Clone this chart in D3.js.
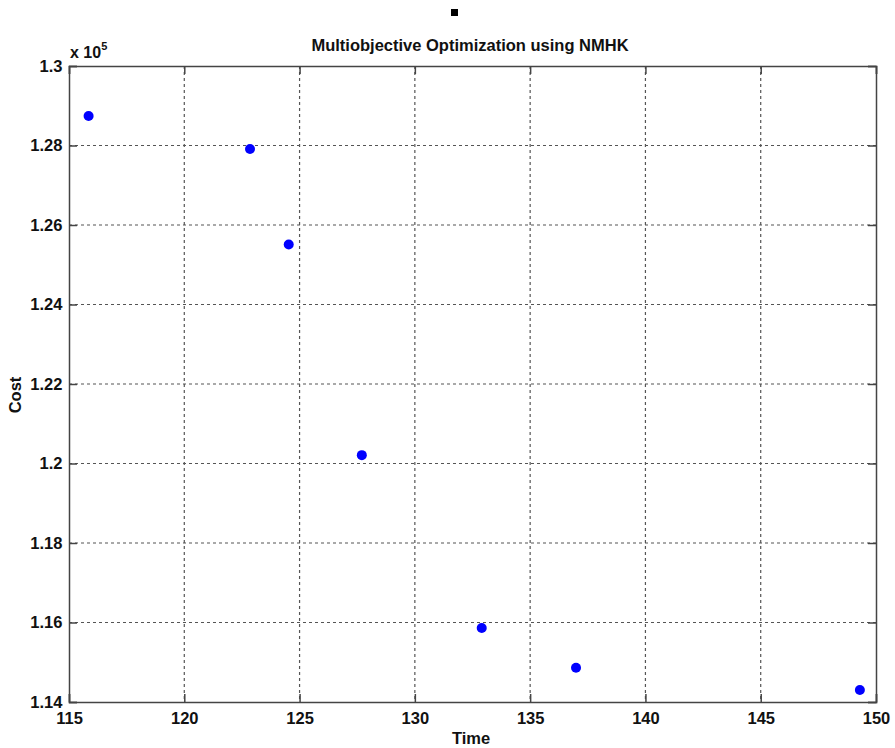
<!DOCTYPE html>
<html>
<head>
    <meta charset="utf-8">
    <style>
        body { margin: 0; background: #fff; }
        text { font-family: "Liberation Sans", Arial, sans-serif; font-weight: bold; fill: #111; }
    </style>
</head>
<body>
    <svg width="895" height="748"></svg>
    <script src="https://d3js.org/d3.v7.min.js"></script>
    <script>
        let timeValues = [115.85, 122.85, 124.53, 127.7, 132.9, 136.99, 149.3];
        let costValues = [128740, 127910, 125510, 120210, 115860, 114860, 114300];
        let xTicks = [115, 120, 125, 130, 135, 140, 145, 150];
        let yTicks = [114000, 116000, 118000, 120000, 122000, 124000, 126000, 128000, 130000];

        let points = timeValues.map((t, i) => ({t: t, c: costValues[i]}));

        let svg = d3.select("svg");
        let plotLeft = 69, plotRight = 876, plotTop = 66, plotBottom = 702;

        let x = d3.scaleLinear().domain([115, 150]).range([plotLeft, plotRight]);
        let y = d3.scaleLinear().domain([114000, 130000]).range([plotBottom, plotTop]);

        // little black square above the title
        svg.append("rect").attr("x", 451).attr("y", 9).attr("width", 7).attr("height", 7).attr("fill", "#000");

        // grid
        let grid = svg.append("g").attr("stroke", "#555").attr("stroke-width", 1.2).attr("stroke-dasharray", "3,3");
        grid.selectAll(".gx").data(xTicks.slice(1, -1)).enter().append("line")
            .attr("x1", d => x(d)).attr("x2", d => x(d)).attr("y1", plotTop).attr("y2", plotBottom);
        grid.selectAll(".gy").data(yTicks.slice(1, -1)).enter().append("line")
            .attr("y1", d => y(d)).attr("y2", d => y(d)).attr("x1", plotLeft).attr("x2", plotRight);

        // axes with inward ticks
        let xAxis = d3.axisBottom(x).tickValues(xTicks).tickSize(-8).tickPadding(14).tickFormat(d3.format("d"));
        let yAxis = d3.axisLeft(y).tickValues(yTicks).tickSize(-8).tickPadding(14).tickFormat(d => +(d / 1e5).toFixed(2));
        let xTop = d3.axisTop(x).tickValues(xTicks).tickSize(-8).tickFormat("");
        let yRight = d3.axisRight(y).tickValues(yTicks).tickSize(-8).tickFormat("");

        function style(g) {
            g.selectAll("path, line").attr("stroke", "#444").attr("stroke-width", 1.5);
            g.selectAll("text").style("font-size", "16.5px").attr("fill", "#111")
                .style("font-family", "'Liberation Sans', Arial, sans-serif").style("font-weight", "bold");
        }
        svg.append("g").attr("transform", `translate(0,${plotBottom})`).call(xAxis).call(style)
            .selectAll("text").attr("dy", "0.5em");
        svg.append("g").attr("transform", `translate(${plotLeft},0)`).call(yAxis).call(style)
            .selectAll("text").attr("dx", "0.45em");
        svg.append("g").attr("transform", `translate(0,${plotTop})`).call(xTop).call(style);
        svg.append("g").attr("transform", `translate(${plotRight},0)`).call(yRight).call(style);

        // points
        svg.selectAll("circle").data(points).enter().append("circle")
            .attr("cx", d => x(d.t)).attr("cy", d => y(d.c)).attr("r", 5)
            .attr("fill", "#0000ff");

        // texts
        svg.append("text").attr("x", 470).attr("y", 51).attr("text-anchor", "middle")
            .style("font-size", "16.5px").text("Multiobjective Optimization using NMHK");
        svg.append("text").attr("x", 471).attr("y", 744).attr("text-anchor", "middle")
            .style("font-size", "16.5px").text("Time");
        svg.append("text").attr("transform", "translate(21,395) rotate(-90)").attr("text-anchor", "middle")
            .style("font-size", "16.5px").text("Cost");
        let ex = svg.append("text").attr("x", 70).attr("y", 58).style("font-size", "16px");
        ex.append("tspan").text("x 10");
        ex.append("tspan").attr("dy", -8).style("font-size", "11px").text("5");
    </script>
</body>
</html>
